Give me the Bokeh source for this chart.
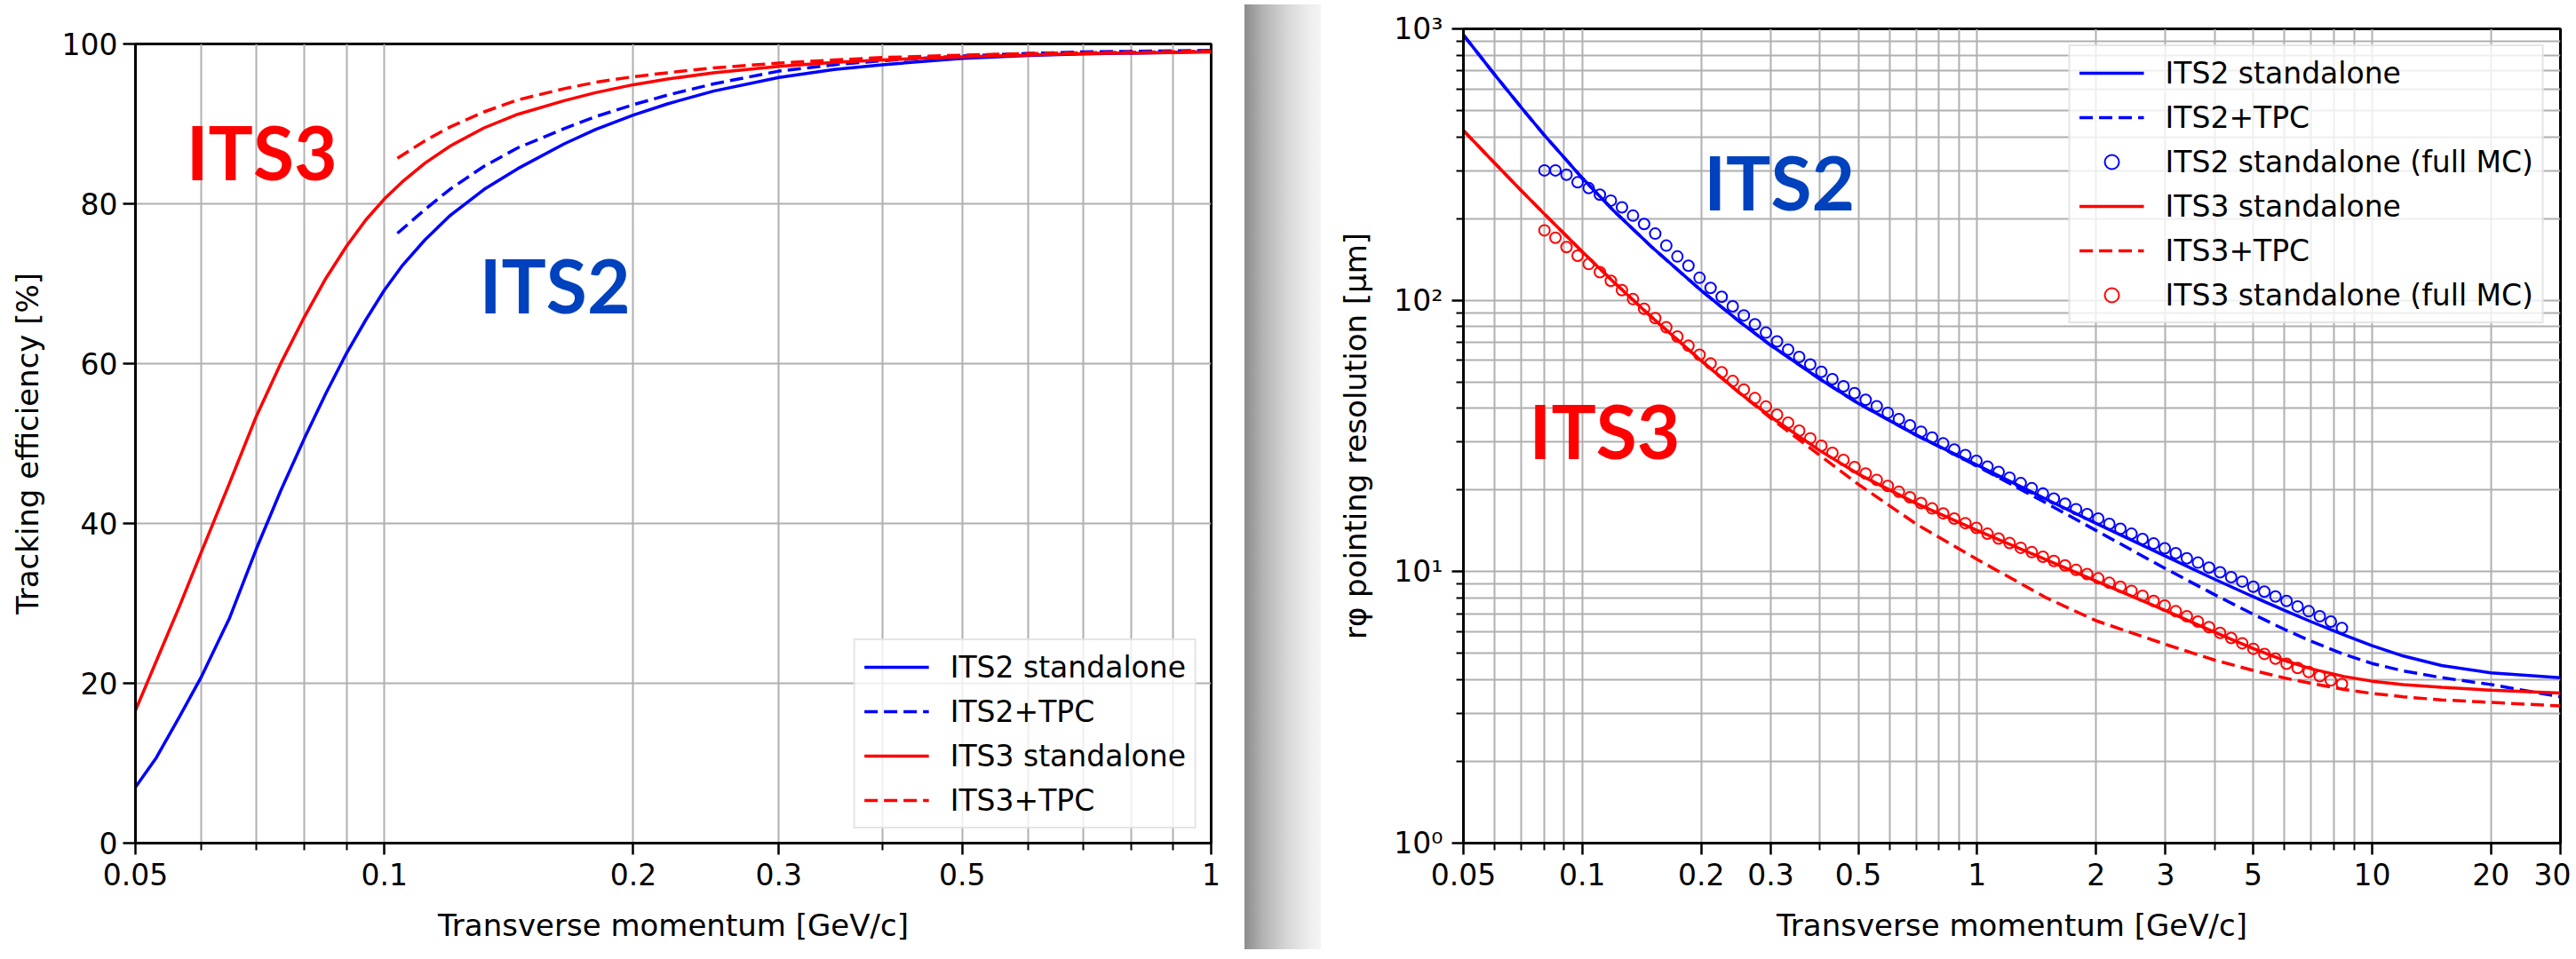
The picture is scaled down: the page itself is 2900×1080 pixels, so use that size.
from bokeh.plotting import figure
from bokeh.models import FixedTicker, Legend, LegendItem, Div, Range1d, CustomJSTickFormatter
from bokeh.layouts import row
from bokeh.embed import file_html
from bokeh.resources import INLINE
from bokeh.core.properties import value

# ---------------- data: tracking efficiency (left) ----------------
pt_eff = [0.05, 0.053, 0.0565, 0.06, 0.065, 0.07, 0.075, 0.08, 0.085, 0.09, 0.095, 0.1,
          0.105, 0.112, 0.12, 0.132, 0.145, 0.165, 0.18, 0.2, 0.22, 0.25, 0.3, 0.35,
          0.4, 0.5, 0.6, 0.7, 0.85, 1.0]
eff_its2_sa = [7.0, 10.7, 15.8, 20.7, 28.2, 36.8, 44.2, 50.6, 56.3, 61.3, 65.5, 69.2,
               72.2, 75.5, 78.5, 81.8, 84.4, 87.5, 89.3, 91.1, 92.5, 94.1, 95.8, 96.8,
               97.4, 98.2, 98.55, 98.75, 98.9, 99.05]
eff_its3_sa = [16.6, 22.8, 29.6, 36.3, 45.1, 53.4, 60.1, 65.8, 70.7, 74.7, 78.0, 80.6,
               82.7, 85.1, 87.2, 89.5, 91.2, 92.9, 93.9, 94.9, 95.6, 96.4, 97.2, 97.7,
               98.0, 98.4, 98.6, 98.8, 98.9, 99.0]
pt_tpc = [0.1037, 0.112, 0.12, 0.132, 0.145, 0.165, 0.18, 0.2, 0.22, 0.25, 0.3, 0.35,
          0.4, 0.5, 0.6, 0.7, 0.85, 1.0]
eff_its2_tpc = [76.3, 79.3, 81.8, 84.7, 87.0, 89.4, 90.9, 92.4, 93.6, 95.0, 96.6, 97.4,
                97.9, 98.5, 98.8, 99.0, 99.1, 99.2]
eff_its3_tpc = [85.7, 87.9, 89.6, 91.5, 93.0, 94.4, 95.2, 95.9, 96.4, 97.0, 97.6, 98.0,
                98.3, 98.6, 98.8, 98.9, 99.0, 99.1]

# ---------------- data: pointing resolution (right) ----------------
pt_res = [0.05, 0.06, 0.07, 0.08, 0.1, 0.12, 0.15, 0.2, 0.25, 0.3, 0.4, 0.5, 0.7, 1.0,
          1.5, 2.0, 3.0, 4.0, 5.0, 6.0, 7.0, 8.5, 10.0, 12.0, 15.0, 20.0, 30.0]
res_its2_sa = [950, 678, 514, 407, 282, 214, 157, 108.7, 83.5, 68.3, 51.2, 41.7, 31.9, 24.7,
               18.45, 15.08, 11.4, 9.37, 8.09, 7.2, 6.55, 5.84, 5.34, 4.89, 4.51, 4.24, 4.07]
res_its2_tpc = [950, 678, 514, 407, 282, 214, 157, 108.7, 83.5, 68.3, 51.2, 41.7, 31.9, 24.5,
                17.86, 14.19, 10.26, 8.22, 6.97, 6.13, 5.55, 4.96, 4.59, 4.31, 4.07, 3.84, 3.46]
res_its3_sa = [422, 320, 254, 208.5, 150.9, 116.9, 86.5, 59.9, 45.6, 37.2, 27.9, 22.9, 17.85, 14.2,
               11.04, 9.24, 7.19, 5.98, 5.21, 4.71, 4.39, 4.11, 3.95, 3.84, 3.75, 3.66, 3.57]
res_its3_tpc = [422, 320, 254, 208.5, 150.9, 116.9, 86.5, 59.9, 45.6, 36.8, 26.8, 21.0, 15.0, 11.1,
                8.0, 6.6, 5.4, 4.72, 4.33, 4.06, 3.88, 3.68, 3.56, 3.46, 3.37, 3.3, 3.2]

pt_mc = [0.0802, 0.0855, 0.0912, 0.0973, 0.1038, 0.1108, 0.1181, 0.1260, 0.1344, 0.1434,
         0.1530, 0.1632, 0.1741, 0.1857, 0.1981, 0.2113, 0.2254, 0.2404, 0.2565, 0.2736,
         0.2918, 0.3113, 0.3321, 0.3542, 0.3778, 0.4031, 0.4299, 0.4586, 0.4892, 0.5219,
         0.5567, 0.5938, 0.6334, 0.6757, 0.7208, 0.7689, 0.8202, 0.8749, 0.9333, 0.9955,
         1.062, 1.133, 1.208, 1.289, 1.375, 1.467, 1.564, 1.669, 1.780, 1.899,
         2.026, 2.161, 2.305, 2.459, 2.623, 2.798, 2.985, 3.184, 3.396, 3.623,
         3.865, 4.122, 4.397, 4.691, 5.004, 5.337, 5.694, 6.073, 6.479, 6.911,
         7.372, 7.864, 8.389]
mc_its2 = [301, 301, 290, 272, 259, 245, 233, 220, 205, 191,
           176, 159, 145, 134, 121, 111, 103, 95, 88, 81.5,
           76, 70.5, 65.8, 61.8, 58, 54.5, 51.2, 48.2, 45.5, 43,
           40.7, 38.5, 36.5, 34.6, 32.8, 31.2, 29.7, 28.2, 26.9, 25.6,
           24.4, 23.3, 22.2, 21.2, 20.3, 19.4, 18.6, 17.8, 17.0, 16.3,
           15.7, 15.0, 14.4, 13.8, 13.2, 12.7, 12.2, 11.7, 11.2, 10.8,
           10.35, 9.95, 9.55, 9.2, 8.8, 8.45, 8.1, 7.8, 7.45, 7.15,
           6.85, 6.55, 6.2]
mc_its3 = [181, 170, 157, 146, 136, 127, 118, 109, 101, 93,
           86, 79.5, 73.5, 68, 63, 58.5, 54.3, 50.4, 46.9, 43.6,
           40.6, 37.9, 35.4, 33.1, 31.0, 29.1, 27.4, 25.8, 24.3, 23.0,
           21.8, 20.7, 19.7, 18.8, 17.9, 17.1, 16.4, 15.7, 15.1, 14.5,
           13.8, 13.25, 12.75, 12.25, 11.8, 11.35, 10.95, 10.55, 10.15, 9.8,
           9.45, 9.1, 8.8, 8.5, 8.15, 7.8, 7.5, 7.15, 6.85, 6.55,
           6.25, 5.95, 5.7, 5.45, 5.2, 4.98, 4.78, 4.58, 4.42, 4.27,
           4.12, 3.98, 3.86]

# tick values
eff_x_major = [0.05, 0.1, 0.2, 0.3, 0.5, 1.0]
eff_x_minor = [0.06, 0.07, 0.08, 0.09, 0.4, 0.6, 0.7, 0.8, 0.9]
eff_y_major = [0, 20, 40, 60, 80, 100]
res_x_major = [0.05, 0.1, 0.2, 0.3, 0.5, 1, 2, 3, 5, 10, 20, 30]
res_x_minor = [0.06, 0.07, 0.08, 0.09, 0.4, 0.6, 0.7, 0.8, 0.9, 4, 6, 7, 8, 9]
res_y_major = [1, 10, 100, 1000]
res_y_minor = [2, 3, 4, 5, 6, 7, 8, 9, 20, 30, 40, 50, 60, 70, 80, 90,
               200, 300, 400, 500, 600, 700, 800, 900]

# ---------------- styles ----------------
FONT = "DejaVu Sans"
BLUE = "#0000ff"
RED = "#ff0000"
LBL_BLUE = "#0041be"
GRID = "#b0b0b0"
LW = 3.5
DASH = "15 7"

num_fmt = CustomJSTickFormatter(code="return String(Math.round(tick*1000)/1000);")
pow_fmt = CustomJSTickFormatter(code="""
const m = {1: '10\u2070', 10: '10\u00b9', 100: '10\u00b2', 1000: '10\u00b3'};
const k = Math.round(tick);
return (k in m) ? m[k] : '';
""")


def set_align(p):
    # keep the bottom edges aligned, let the tops differ
    if "frame_align" in p.properties():
        try:
            p.frame_align = dict(top=False, left=False, right=False, bottom=True)
        except Exception:
            p.frame_align = False


def style_axes(p, xmaj, xmin, ymaj, ymin, major_out_y, minor_out_y):
    p.outline_line_color = "black"
    p.outline_line_width = 3
    p.background_fill_color = "white"
    p.border_fill_color = "white"
    xt = FixedTicker(ticks=xmaj, minor_ticks=xmin)
    yt = FixedTicker(ticks=ymaj, minor_ticks=ymin)
    p.xaxis.ticker = xt
    p.yaxis.ticker = yt
    p.xgrid.ticker = xt
    p.ygrid.ticker = yt
    for g in (p.xgrid, p.ygrid):
        g.grid_line_color = GRID
        g.grid_line_width = 2
        g.minor_grid_line_color = GRID
        g.minor_grid_line_width = 2
    for ax in (p.xaxis, p.yaxis):
        ax.axis_line_color = "black"
        ax.axis_line_width = 3
        ax.major_tick_line_color = "black"
        ax.major_tick_line_width = 2.5
        ax.minor_tick_line_color = "black"
        ax.minor_tick_line_width = 2
        ax.major_tick_in = 0
        ax.minor_tick_in = 0
        ax.major_label_text_font = FONT
        ax.major_label_text_font_size = "33px"
        ax.major_label_text_color = "black"
        ax.axis_label_text_font = FONT
        ax.axis_label_text_font_size = "34px"
        ax.axis_label_text_font_style = "normal"
        ax.axis_label_text_color = "black"
    p.xaxis.major_tick_out = 13
    p.xaxis.minor_tick_out = 8
    p.xaxis.major_label_standoff = 9
    p.xaxis.axis_label_standoff = 22
    p.yaxis.major_tick_out = major_out_y
    p.yaxis.minor_tick_out = minor_out_y


def style_legend(leg, margin):
    leg.location = "top_right"
    leg.margin = margin
    leg.padding = 10
    leg.spacing = 10
    leg.glyph_width = 73
    leg.glyph_height = 40
    leg.label_height = 40
    leg.label_standoff = 24
    leg.label_text_font = FONT
    leg.label_text_font_size = "33px"
    leg.label_text_color = "black"
    leg.border_line_color = "#cccccc"
    leg.border_line_width = 2
    leg.background_fill_color = "white"
    leg.background_fill_alpha = 0.8


def big_label(p, x, y, txt, color):
    p.text(x=[x], y=[y], text=[txt], text_font=value("Lato"), text_font_style="bold",
           text_font_size="84px", text_color=color, text_align="left",
           text_baseline="alphabetic")


# ---------------- left: tracking efficiency ----------------
p1 = figure(x_axis_type="log", x_range=Range1d(0.05, 1.0), y_range=Range1d(0, 100),
            width=1396, height=1064,
            min_border_left=152, min_border_right=33, min_border_top=49, min_border_bottom=113,
            output_backend="svg", toolbar_location=None)
set_align(p1)
style_axes(p1, eff_x_major, eff_x_minor, eff_y_major, [], 14, 0)
p1.xaxis.formatter = num_fmt
p1.yaxis.major_label_standoff = 6
p1.yaxis.axis_label_standoff = 16
p1.xaxis.axis_label = "Transverse momentum [GeV/c]"
p1.yaxis.axis_label = "Tracking efficiency [%]"

l1 = p1.line(pt_eff, eff_its2_sa, line_color=BLUE, line_width=LW)
l2 = p1.line(pt_tpc, eff_its2_tpc, line_color=BLUE, line_width=LW, line_dash=DASH)
l3 = p1.line(pt_eff, eff_its3_sa, line_color=RED, line_width=LW)
l4 = p1.line(pt_tpc, eff_its3_tpc, line_color=RED, line_width=LW, line_dash=DASH)

big_label(p1, 0.0576, 86.6, "ITS3", RED)
big_label(p1, 0.1303, 69.9, "ITS2", LBL_BLUE)

leg1 = Legend(items=[LegendItem(label="ITS2 standalone", renderers=[l1]),
                     LegendItem(label="ITS2+TPC", renderers=[l2]),
                     LegendItem(label="ITS3 standalone", renderers=[l3]),
                     LegendItem(label="ITS3+TPC", renderers=[l4])])
style_legend(leg1, 16)
leg1.location = "bottom_right"
p1.add_layout(leg1)

# ---------------- shadow separator ----------------
shadow = Div(text="", width=86, height=1064,
             styles={"background": "linear-gradient(to right, #8c8c8c 0%, #b4b4b4 25%, #d6d6d6 55%, #eeeeee 85%, #f4f4f4 100%)"})

# ---------------- right: pointing resolution ----------------
p2 = figure(x_axis_type="log", y_axis_type="log", x_range=Range1d(0.05, 30), y_range=Range1d(1, 1000),
            width=1402, height=1064,
            min_border_left=155, min_border_right=12, min_border_top=32, min_border_bottom=113,
            output_backend="svg", toolbar_location=None)
set_align(p2)
style_axes(p2, res_x_major, res_x_minor, res_y_major, res_y_minor, 13, 8)
p2.xaxis.formatter = num_fmt
p2.yaxis.formatter = pow_fmt
p2.yaxis.major_label_standoff = 10
p2.yaxis.axis_label_standoff = 20
p2.xaxis.axis_label = "Transverse momentum [GeV/c]"
p2.yaxis.axis_label = "r\u03c6 pointing resolution [\u03bcm]"

r1 = p2.line(pt_res, res_its2_sa, line_color=BLUE, line_width=LW)
r2 = p2.line(pt_res, res_its2_tpc, line_color=BLUE, line_width=LW, line_dash=DASH)
r4 = p2.line(pt_res, res_its3_sa, line_color=RED, line_width=LW)
r5 = p2.line(pt_res, res_its3_tpc, line_color=RED, line_width=LW, line_dash=DASH)
r3 = p2.scatter(pt_mc, mc_its2, marker="circle", size=12, fill_color=None, line_color=BLUE, line_width=2)
r6 = p2.scatter(pt_mc, mc_its3, marker="circle", size=12, fill_color=None, line_color=RED, line_width=2)

big_label(p2, 0.2032, 273, "ITS2", LBL_BLUE)
big_label(p2, 0.0734, 33.1, "ITS3", RED)

leg2 = Legend(items=[LegendItem(label="ITS2 standalone", renderers=[r1]),
                     LegendItem(label="ITS2+TPC", renderers=[r2]),
                     LegendItem(label="ITS2 standalone (full MC)", renderers=[r3]),
                     LegendItem(label="ITS3 standalone", renderers=[r4]),
                     LegendItem(label="ITS3+TPC", renderers=[r5]),
                     LegendItem(label="ITS3 standalone (full MC)", renderers=[r6])])
style_legend(leg2, 18)
p2.add_layout(leg2)

layout = row(p1, shadow, p2)
open("out.html", "w").write(file_html(layout, INLINE))
